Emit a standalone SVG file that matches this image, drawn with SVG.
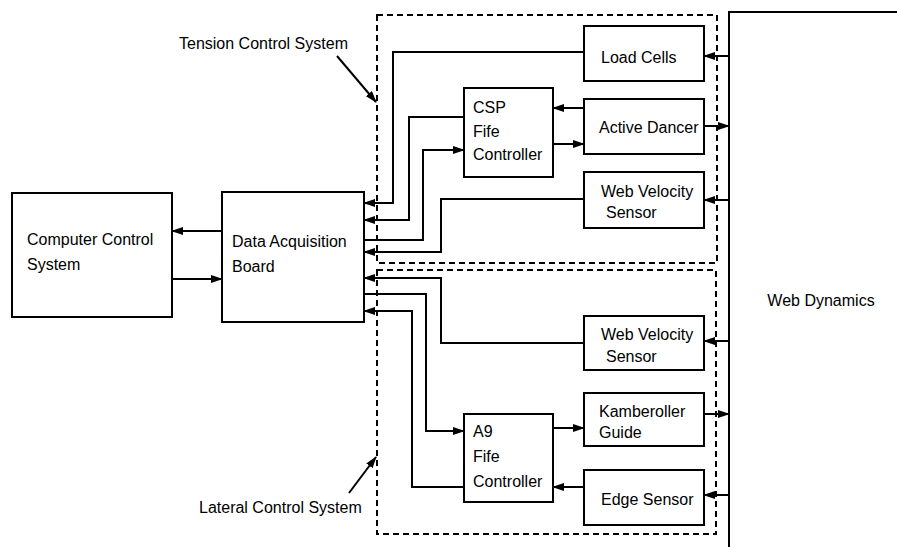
<svg xmlns="http://www.w3.org/2000/svg" width="897" height="547" viewBox="0 0 897 547">
<style>
.box{fill:#fff;stroke:#000;stroke-width:2}
.grp{fill:none;stroke:#000;stroke-width:2;stroke-dasharray:6 4}
.c{fill:none;stroke:#000;stroke-width:2}
.a{marker-end:url(#ah)}
text{font-family:"Liberation Sans",Arial,sans-serif;font-size:16px;fill:#000}
</style>
<defs>
<marker id="ah" markerUnits="userSpaceOnUse" markerWidth="12" markerHeight="8" refX="11" refY="4" orient="auto">
<path d="M0,0 L12,4 L0,8 z" fill="#000"/>
</marker>
</defs>
<rect width="897" height="547" fill="#fff"/>
<g id="groups">
<rect id="tension-group" class="grp" x="377" y="15" width="340" height="248"/>
<rect id="lateral-group" class="grp" x="377" y="270" width="339" height="264"/>
<text x="179" y="49">Tension Control System</text>
<text x="199" y="513">Lateral Control System</text>
</g>
<g id="web-dynamics">
<path class="c" d="M897,12 H729 V547"/>
<text x="821" y="306" text-anchor="middle">Web Dynamics</text>
</g>
<g id="connectors">
<path class="c a" d="M337,56 L376,102"/>
<path class="c a" d="M349,493 L376,457"/>
<path class="c a" d="M222,231 H172"/>
<path class="c a" d="M172,279 H222"/>
<path class="c a" d="M584,52 H393 V203 H364"/>
<path class="c a" d="M464,117 H409 V220 H364"/>
<path class="c a" d="M364,240 H423 V150 H464"/>
<path class="c a" d="M584,199 H441 V252 H364"/>
<path class="c a" d="M584,108 H553"/>
<path class="c a" d="M553,144 H584"/>
<path class="c a" d="M729,56 H704"/>
<path class="c a" d="M704,126 H729"/>
<path class="c a" d="M729,200 H704"/>
<path class="c a" d="M584,343 H441 V278 H364"/>
<path class="c a" d="M364,294 H426 V431 H464"/>
<path class="c a" d="M464,487 H412 V311 H364"/>
<path class="c a" d="M553,428 H584"/>
<path class="c a" d="M584,487 H553"/>
<path class="c a" d="M729,341 H704"/>
<path class="c a" d="M704,414 H729"/>
<path class="c a" d="M729,495 H704"/>
</g>
<g id="ccs">
<rect class="box" x="12" y="193" width="160" height="124"/>
<text x="27" y="245">Computer Control</text>
<text x="27" y="270">System</text>
</g>
<g id="dab">
<rect class="box" x="222" y="192" width="142" height="130"/>
<text x="232" y="247">Data Acquisition</text>
<text x="232" y="272">Board</text>
</g>
<g id="load-cells">
<rect class="box" x="584" y="26" width="120" height="55"/>
<text x="601" y="63">Load Cells</text>
</g>
<g id="csp">
<rect class="box" x="464" y="88" width="89" height="89"/>
<text x="473" y="113">CSP</text>
<text x="473" y="137">Fife</text>
<text x="473" y="160">Controller</text>
</g>
<g id="active-dancer">
<rect class="box" x="584" y="99" width="120" height="55"/>
<text x="599" y="133">Active Dancer</text>
</g>
<g id="wvs-top">
<rect class="box" x="584" y="172" width="120" height="56"/>
<text x="601" y="197">Web Velocity</text>
<text x="606" y="218">Sensor</text>
</g>
<g id="wvs-bottom">
<rect class="box" x="584" y="316" width="120" height="54"/>
<text x="601" y="340">Web Velocity</text>
<text x="606" y="362">Sensor</text>
</g>
<g id="kamberoller">
<rect class="box" x="584" y="393" width="120" height="53"/>
<text x="599" y="417">Kamberoller</text>
<text x="599" y="438">Guide</text>
</g>
<g id="a9">
<rect class="box" x="464" y="414" width="89" height="88"/>
<text x="473" y="437">A9</text>
<text x="473" y="462">Fife</text>
<text x="473" y="487">Controller</text>
</g>
<g id="edge-sensor">
<rect class="box" x="584" y="470" width="120" height="55"/>
<text x="601" y="505">Edge Sensor</text>
</g>
</svg>
